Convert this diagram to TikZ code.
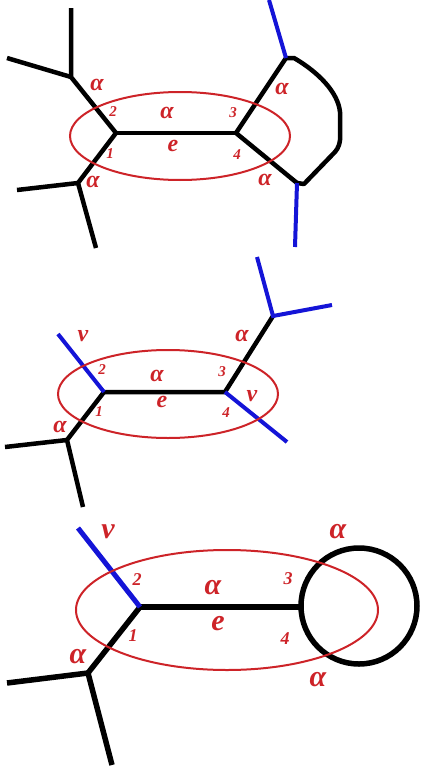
\documentclass[tikz,border=0pt]{standalone}
\usepackage{fontspec}
\setmainfont{Liberation Serif}
\usetikzlibrary{calc}
\definecolor{loopred}{RGB}{205,35,40}
\definecolor{vblue}{RGB}{20,20,215}

\begin{document}
\begin{tikzpicture}[x=1pt, y=-1pt,
  edge/.style={line width=4.5pt, black, line join=round},
  vedge/.style={line width=4pt, vblue},
  loopline/.style={draw=loopred, line width=2pt},
  lab/.style={text=loopred, inner sep=0pt,
    font=\fontsize{24}{24}\selectfont\bfseries\itshape},
  num/.style={text=loopred, inner sep=0pt,
    font=\fontsize{15}{15}\selectfont\bfseries\itshape},
  biglab/.style={lab, font=\fontsize{30}{30}\selectfont\bfseries\itshape},
  bignum/.style={num, font=\fontsize{18}{18}\selectfont\bfseries\itshape}
]
\useasboundingbox (0,0) rectangle (424,771);

% --- first picture: edge e with a loop on the right
\coordinate (a1) at (116,133);
\coordinate (b1) at (236,133);
\coordinate (p1) at (71,77);
\coordinate (q1) at (78,183);
\coordinate (r1) at (286,58);
\coordinate (s1) at (297,183);
\coordinate (p1t) at (71,8);
\coordinate (p1l) at (7,58);
\coordinate (q1l) at (17,190);
\coordinate (q1d) at (96,248);
\coordinate (r1t) at (269,0);
\coordinate (s1d) at (295,247);

\draw[edge] (p1t) -- (p1) -- (a1) -- (q1) -- (q1d);
\draw[edge] (p1l) -- (p1);
\draw[edge] (q1l) -- (q1);
\draw[edge] (a1) -- (b1);
\draw[edge] (r1) -- (b1) -- (s1);
\draw[edge] (r1) -- ++(8,0) .. controls (318,72) and (338,92) .. (340,112)
  -- (340,140) .. controls (339,148) and (336,151) .. (333,154)
  -- (304,184) -- (s1);
\draw[vedge] (r1t) -- (r1);
\draw[vedge] (s1) -- (s1d);
\draw[loopline] (180,136) ellipse [x radius=110, y radius=44];

\node[lab] (al1) at (97,85)  {α};
\node[lab] (ae1) at (167,113) {α};
\node[lab] (ar1) at (282,89) {α};
\node[lab] (aq1) at (93,182) {α};
\node[lab] (as1) at (265,180) {α};
\node[lab] (e1)  at (173,146) {e};
\node[num] (n1a) at (110,154) {1};
\node[num] (n2a) at (113,112) {2};
\node[num] (n3a) at (233,113) {3};
\node[num] (n4a) at (237,155) {4};

% --- second picture: two ν half-edges
\coordinate (a2) at (104,392);
\coordinate (b2) at (225,392);
\coordinate (q2) at (67,440);
\coordinate (r2) at (273,316);
\coordinate (a2v) at (58,334);
\coordinate (q2l) at (5,447);
\coordinate (q2d) at (83,507);
\coordinate (r2t) at (257,257);
\coordinate (r2r) at (332,305);
\coordinate (b2v) at (287,442);

\draw[edge] (a2) -- (b2) -- (r2);
\draw[edge] (a2) -- (q2) -- (q2d);
\draw[edge] (q2l) -- (q2);
\draw[vedge] (a2v) -- (a2);
\draw[vedge] (b2) -- (b2v);
\draw[vedge] (r2t) -- (r2) -- (r2r);
\draw[loopline] (168,394) ellipse [x radius=110, y radius=44];

\node[lab] (nu2)  at (83,336)  {ν};
\node[lab] (ae2)  at (157,376) {α};
\node[lab] (ar2)  at (242,336) {α};
\node[lab] (nub2) at (252,396) {ν};
\node[lab] (aq2)  at (60,427)  {α};
\node[lab] (e2)   at (162,402) {e};
\node[num] (n1b) at (99,412)  {1};
\node[num] (n2b) at (102,370) {2};
\node[num] (n3b) at (222,372) {3};
\node[num] (n4b) at (226,413) {4};

% --- third picture: edge e ending in a loop
\coordinate (a3) at (140,607);
\coordinate (c3) at (359,606);
\coordinate (w3) at (301,607);
\coordinate (q3) at (88,673);
\coordinate (a3v) at (78,528);
\coordinate (q3l) at (7,683);
\coordinate (q3d) at (112,765);

\draw[edge, line width=5.5pt] (a3) -- (w3);
\draw[edge, line width=5.5pt] (a3) -- (q3) -- (q3d);
\draw[edge, line width=5.5pt] (q3l) -- (q3);
\draw[edge, line width=5.5pt] (c3) circle [radius=58];
\draw[vedge, line width=5pt] (a3v) -- (a3);
\draw[loopline] (227,610) ellipse [x radius=151, y radius=60];

\node[biglab] (nu3) at (108,532) {ν};
\node[biglab] (at3) at (338,532) {α};
\node[biglab] (ae3) at (213,588) {α};
\node[biglab] (e3)  at (218,624) {e};
\node[biglab] (aq3) at (78,657) {α};
\node[biglab] (ab3) at (318,680) {α};
\node[bignum] (n1c) at (133,636) {1};
\node[bignum] (n2c) at (137,580) {2};
\node[bignum] (n3c) at (288,579) {3};
\node[bignum] (n4c) at (285,639) {4};
\end{tikzpicture}
\end{document}
